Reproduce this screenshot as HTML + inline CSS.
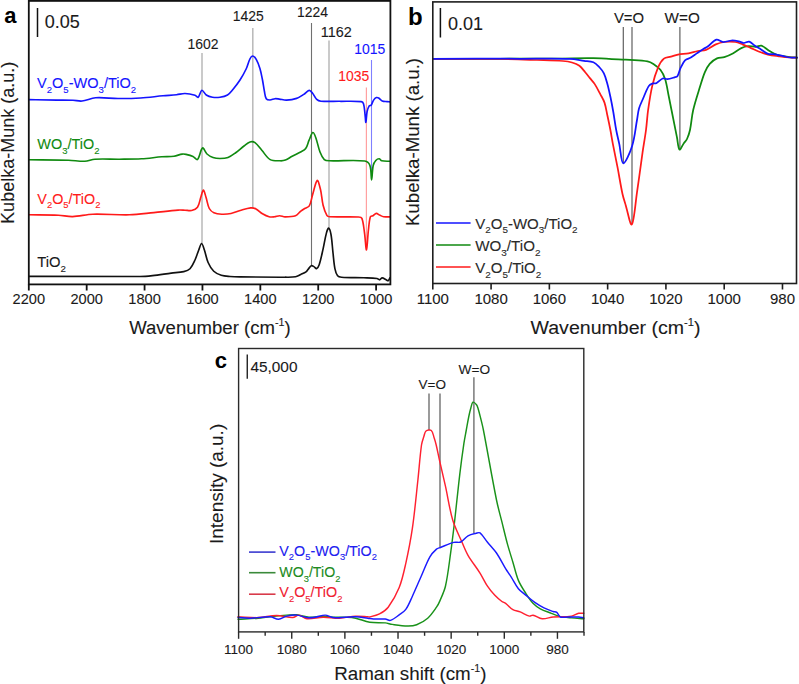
<!DOCTYPE html>
<html><head><meta charset="utf-8"><style>
html,body{margin:0;padding:0;background:#fff;width:799px;height:684px;overflow:hidden}
svg{display:block}
text{font-family:"Liberation Sans", sans-serif}
</style></head><body>
<svg width="799" height="684" viewBox="0 0 799 684">
<rect width="799" height="684" fill="#fff"/>
<line x1="202.0" y1="53" x2="202.0" y2="243" stroke="#b8b8b8" stroke-width="1.5"/>
<line x1="252.8" y1="28" x2="252.8" y2="208" stroke="#b8b8b8" stroke-width="1.5"/>
<line x1="311.5" y1="23" x2="311.5" y2="266" stroke="#707070" stroke-width="1.1"/>
<line x1="329.0" y1="40.6" x2="329.0" y2="229" stroke="#b8b8b8" stroke-width="1.5"/>
<line x1="366.4" y1="87.5" x2="366.4" y2="245" stroke="#ffa0a0" stroke-width="1.2"/>
<line x1="371.5" y1="60" x2="371.5" y2="176" stroke="#8080ff" stroke-width="1.1"/>
<path d="M28.80,276.30 C65.87,276.37 102.94,276.71 140.00,276.50 C144.18,276.48 148.35,276.05 152.50,275.60 C158.77,274.92 165.00,273.90 171.25,273.10 C175.41,272.57 179.71,272.54 183.75,271.60 C185.96,271.09 188.48,270.32 190.00,268.75 C192.23,266.45 193.58,263.03 195.00,260.00 C196.50,256.78 197.43,253.30 198.75,250.00 C199.63,247.80 200.66,243.50 201.60,243.50 C202.54,243.50 203.64,247.77 204.40,250.00 C205.80,254.10 206.37,258.56 208.10,262.50 C209.48,265.65 211.34,268.91 213.75,271.25 C215.72,273.16 218.59,274.39 221.25,275.25 C224.01,276.14 227.07,276.24 230.00,276.50 C233.32,276.79 236.66,276.86 240.00,276.90 C255.00,277.09 270.00,277.23 285.00,277.20 C288.50,277.19 292.10,277.38 295.50,276.80 C297.37,276.48 299.06,275.31 300.80,274.50 C302.56,273.68 304.48,273.03 306.00,271.90 C307.11,271.07 307.78,269.68 308.70,268.60 C309.54,267.61 310.28,266.09 311.30,265.70 C312.02,265.42 313.11,266.16 313.90,266.60 C314.84,267.13 315.78,268.86 316.50,268.60 C317.54,268.23 318.70,266.18 319.20,264.70 C320.90,259.62 321.90,254.19 323.10,248.90 C324.30,243.65 325.03,238.28 326.40,233.10 C326.86,231.35 327.92,227.89 328.60,228.10 C329.45,228.36 330.60,232.27 331.00,234.50 C332.07,240.54 332.30,246.77 333.00,252.90 C333.60,258.14 333.87,263.46 334.90,268.60 C335.40,271.10 336.17,273.94 337.60,275.80 C338.37,276.80 340.13,277.10 341.50,277.20 C348.87,277.76 356.37,277.53 363.80,277.80 C368.20,277.96 372.68,277.95 377.00,278.50 C377.95,278.62 378.79,279.91 379.60,279.80 C380.52,279.68 381.27,277.80 382.20,277.80 C383.47,277.80 384.86,279.15 386.20,279.80 C386.86,280.12 387.70,280.96 388.20,280.70 C388.97,280.29 389.40,278.77 390.00,277.80" fill="none" stroke="#111111" stroke-width="1.65" stroke-linejoin="round" stroke-linecap="round"/>
<path d="M28.80,214.80 C38.67,214.93 48.55,214.80 58.40,215.20 C63.15,215.40 67.87,216.74 72.60,216.60 C79.37,216.40 86.10,214.42 92.90,214.20 C105.04,213.82 117.25,215.12 129.40,214.80 C137.55,214.59 145.67,213.38 153.80,212.60 C161.90,211.82 169.99,210.72 178.10,210.10 C180.39,209.92 182.70,210.13 185.00,210.20 C187.20,210.27 189.54,210.99 191.60,210.50 C193.71,209.99 196.29,208.93 197.50,207.20 C199.36,204.53 199.67,200.59 200.80,197.30 C201.63,194.89 202.53,190.10 203.40,190.10 C204.27,190.10 205.22,194.87 206.00,197.30 C207.19,201.00 207.59,205.14 209.30,208.50 C210.22,210.31 212.07,211.96 213.90,212.80 C216.23,213.86 219.15,214.09 221.80,214.20 C224.85,214.32 228.01,214.10 231.00,213.50 C234.14,212.87 237.10,211.38 240.20,210.50 C243.67,209.51 247.19,208.26 250.70,207.90 C252.45,207.72 254.43,208.12 256.00,208.90 C258.37,210.08 260.19,212.41 262.50,213.80 C264.56,215.04 266.81,216.22 269.10,216.80 C270.78,217.22 272.65,216.98 274.40,216.80 C276.15,216.62 277.87,215.70 279.60,215.70 C281.40,215.70 283.18,216.80 285.00,216.80 C288.48,216.80 292.34,216.84 295.50,215.70 C297.60,214.94 298.96,212.54 300.80,211.10 C302.03,210.14 303.37,209.31 304.70,208.50 C306.20,207.58 308.48,207.33 309.30,205.90 C311.11,202.73 311.44,198.42 312.60,194.70 C314.08,189.95 315.60,181.56 317.20,180.50 C318.23,179.82 319.76,186.40 320.50,189.50 C321.73,194.64 321.83,200.07 323.10,205.20 C324.00,208.81 325.25,212.63 327.00,215.70 C327.45,216.50 328.73,216.76 329.70,216.80 C339.27,217.19 349.05,216.53 358.60,217.00 C359.78,217.06 361.51,217.36 361.90,218.40 C363.48,222.63 363.80,227.98 364.50,232.80 C365.33,238.48 365.90,250.30 366.50,249.90 C367.20,249.44 367.63,236.75 368.40,230.20 C368.93,225.72 369.13,220.80 370.40,216.80 C370.66,215.97 372.19,216.17 373.00,215.70 C374.16,215.03 375.16,213.50 376.30,213.40 C377.36,213.30 378.48,214.58 379.60,215.10 C380.91,215.71 382.20,216.57 383.60,216.80 C385.66,217.14 387.87,216.80 390.00,216.80" fill="none" stroke="#ff1a1a" stroke-width="1.65" stroke-linejoin="round" stroke-linecap="round"/>
<path d="M28.80,159.80 C42.07,159.93 55.34,159.87 68.60,160.20 C74.01,160.34 79.44,161.40 84.80,161.20 C88.20,161.07 91.49,159.40 94.90,159.20 C102.99,158.73 111.17,159.27 119.30,159.20 C126.73,159.14 134.18,159.22 141.60,158.80 C148.38,158.42 155.12,157.34 161.90,156.80 C165.92,156.48 170.02,156.73 174.00,156.20 C176.78,155.83 179.44,154.51 182.20,154.10 C183.44,153.91 184.77,154.13 186.00,154.40 C188.37,154.93 190.80,155.52 193.00,156.50 C194.63,157.22 196.55,160.35 197.50,159.50 C199.71,157.52 200.52,149.15 202.50,148.00 C203.69,147.31 205.18,152.36 207.00,154.00 C208.68,155.52 210.85,156.76 213.00,157.50 C215.19,158.26 217.66,158.50 220.00,158.50 C222.66,158.50 225.54,158.42 228.00,157.50 C230.88,156.42 233.45,154.33 236.00,152.50 C238.78,150.50 241.25,148.06 244.00,146.00 C245.92,144.56 247.84,142.65 250.00,142.00 C251.51,141.55 253.70,141.78 255.00,142.70 C257.63,144.55 259.53,147.77 261.80,150.30 C264.59,153.41 266.80,157.67 270.20,159.60 C272.96,161.17 276.94,160.69 280.30,160.80 C282.00,160.86 283.82,160.70 285.40,160.10 C287.79,159.20 289.91,157.52 292.20,156.30 C294.98,154.82 297.87,153.56 300.60,152.00 C302.37,150.99 304.56,150.19 305.70,148.60 C307.39,146.25 307.88,142.96 309.10,140.20 C310.24,137.63 311.49,133.09 312.80,132.60 C313.72,132.26 315.12,135.86 315.80,137.70 C317.52,142.33 318.21,147.40 320.00,152.00 C321.05,154.70 322.35,157.75 324.30,159.60 C325.45,160.69 327.59,160.74 329.30,160.80 C341.09,161.21 353.44,159.69 364.80,161.00 C366.98,161.25 369.18,163.49 369.90,165.50 C371.44,169.79 371.05,179.90 371.60,179.90 C372.15,179.90 372.19,170.16 373.20,165.50 C373.59,163.69 374.61,161.83 375.80,160.50 C376.61,159.60 378.13,158.75 379.20,158.80 C380.10,158.85 380.70,160.57 381.70,160.80 C384.30,161.40 387.23,161.13 390.00,161.30" fill="none" stroke="#108a10" stroke-width="1.65" stroke-linejoin="round" stroke-linecap="round"/>
<path d="M28.80,99.60 C38.20,99.77 47.60,99.95 57.00,100.10 C62.33,100.18 67.67,100.11 73.00,100.30 C76.01,100.41 79.04,101.33 82.00,101.00 C86.58,100.49 90.99,98.12 95.60,97.80 C102.99,97.29 110.53,98.47 118.00,98.50 C125.53,98.53 133.08,98.45 140.60,98.00 C148.08,97.55 155.53,96.48 163.00,95.80 C167.53,95.38 172.08,95.17 176.60,94.70 C179.41,94.41 182.21,93.42 185.00,93.50 C188.34,93.60 191.80,94.33 195.00,95.25 C196.16,95.58 197.37,97.78 198.10,97.25 C199.67,96.11 200.40,90.66 201.90,90.25 C203.11,89.91 204.51,93.85 206.25,95.00 C208.04,96.18 210.35,96.90 212.50,97.25 C214.93,97.65 217.55,97.62 220.00,97.25 C222.55,96.87 225.31,96.27 227.50,95.00 C229.48,93.85 230.99,91.81 232.50,90.00 C235.16,86.81 237.74,83.49 240.00,80.00 C242.33,76.41 244.43,72.62 246.25,68.75 C247.76,65.54 248.41,61.87 250.00,58.75 C250.58,57.62 251.83,55.90 252.75,56.00 C253.91,56.12 255.46,58.01 256.25,59.40 C257.88,62.26 259.03,65.55 260.00,68.75 C261.11,72.41 261.76,76.23 262.50,80.00 C263.23,83.73 263.65,87.52 264.40,91.25 C264.90,93.77 265.02,96.82 266.25,98.75 C266.88,99.74 268.74,100.01 270.00,100.00 C271.65,99.99 273.31,98.86 275.00,98.70 C276.41,98.56 277.87,98.93 279.30,99.10 C281.70,99.39 284.11,100.20 286.50,100.10 C289.87,99.96 293.40,99.45 296.60,98.40 C299.17,97.55 301.49,95.87 303.80,94.40 C305.69,93.20 307.42,90.69 309.20,90.40 C310.29,90.22 311.53,91.95 312.40,93.00 C314.03,94.95 314.91,97.70 316.70,99.40 C317.78,100.43 319.47,101.07 321.00,101.20 C327.14,101.71 333.47,101.24 339.70,101.30 C346.90,101.37 354.35,100.90 361.30,101.60 C362.28,101.70 363.21,102.77 363.50,103.70 C364.41,106.60 364.50,109.96 364.90,113.10 C365.30,116.19 365.56,122.62 365.90,122.40 C366.29,122.15 366.40,115.20 367.10,111.70 C367.50,109.70 368.20,107.53 369.20,105.90 C369.53,105.36 370.71,105.71 371.10,105.20 C372.18,103.77 372.54,101.63 373.60,100.10 C374.30,99.09 375.36,98.04 376.40,97.60 C377.02,97.34 377.97,97.64 378.60,98.00 C379.90,98.74 380.83,100.33 382.20,100.90 C383.70,101.53 385.53,101.39 387.20,101.60 C388.13,101.72 389.07,101.80 390.00,101.90" fill="none" stroke="#1414ff" stroke-width="1.65" stroke-linejoin="round" stroke-linecap="round"/>
<rect x="28.8" y="0.9" width="361.59999999999997" height="283.5" fill="none" stroke="#111111" stroke-width="1.8"/>
<line x1="28.8" y1="284.4" x2="28.8" y2="290.5" stroke="#111111" stroke-width="1.8"/>
<text x="28.8" y="304.4" font-size="14.6" fill="#1a1a1a" stroke="#1a1a1a" stroke-width="0.1" text-anchor="middle" font-weight="normal" >2200</text>
<line x1="86.684" y1="284.4" x2="86.684" y2="290.5" stroke="#111111" stroke-width="1.8"/>
<text x="86.684" y="304.4" font-size="14.6" fill="#1a1a1a" stroke="#1a1a1a" stroke-width="0.1" text-anchor="middle" font-weight="normal" >2000</text>
<line x1="144.568" y1="284.4" x2="144.568" y2="290.5" stroke="#111111" stroke-width="1.8"/>
<text x="144.568" y="304.4" font-size="14.6" fill="#1a1a1a" stroke="#1a1a1a" stroke-width="0.1" text-anchor="middle" font-weight="normal" >1800</text>
<line x1="202.45200000000003" y1="284.4" x2="202.45200000000003" y2="290.5" stroke="#111111" stroke-width="1.8"/>
<text x="202.45200000000003" y="304.4" font-size="14.6" fill="#1a1a1a" stroke="#1a1a1a" stroke-width="0.1" text-anchor="middle" font-weight="normal" >1600</text>
<line x1="260.336" y1="284.4" x2="260.336" y2="290.5" stroke="#111111" stroke-width="1.8"/>
<text x="260.336" y="304.4" font-size="14.6" fill="#1a1a1a" stroke="#1a1a1a" stroke-width="0.1" text-anchor="middle" font-weight="normal" >1400</text>
<line x1="318.22" y1="284.4" x2="318.22" y2="290.5" stroke="#111111" stroke-width="1.8"/>
<text x="318.22" y="304.4" font-size="14.6" fill="#1a1a1a" stroke="#1a1a1a" stroke-width="0.1" text-anchor="middle" font-weight="normal" >1200</text>
<line x1="376.10400000000004" y1="284.4" x2="376.10400000000004" y2="290.5" stroke="#111111" stroke-width="1.8"/>
<text x="376.10400000000004" y="304.4" font-size="14.6" fill="#1a1a1a" stroke="#1a1a1a" stroke-width="0.1" text-anchor="middle" font-weight="normal" >1000</text>
<text x="129.2" y="333.8" font-size="18" fill="#1a1a1a" stroke="#1a1a1a" stroke-width="0.1" text-anchor="start" font-weight="normal" textLength="161.5" lengthAdjust="spacingAndGlyphs">Wavenumber (cm<tspan font-size="10.4" dy="-8.0">-1</tspan><tspan dy="8.0">)</tspan></text>
<text x="0" y="0" font-size="18" fill="#1a1a1a" stroke="#1a1a1a" stroke-width="0.1" text-anchor="start" font-weight="normal" transform="translate(14,223.9) rotate(-90)" textLength="162.2" lengthAdjust="spacingAndGlyphs">Kubelka-Munk (a.u.)</text>
<text x="4.3" y="22.7" font-size="22.5" fill="#000" stroke="#000" stroke-width="0" text-anchor="start" font-weight="bold" textLength="12.2" lengthAdjust="spacingAndGlyphs">a</text>
<line x1="37.5" y1="8" x2="37.5" y2="37" stroke="#111111" stroke-width="1.5"/>
<text x="44.8" y="27.5" font-size="18" fill="#1a1a1a" stroke="#1a1a1a" stroke-width="0.1" text-anchor="start" font-weight="normal" >0.05</text>
<text x="202.9" y="48.9" font-size="14.6" fill="#1a1a1a" stroke="#1a1a1a" stroke-width="0.1" text-anchor="middle" font-weight="normal" textLength="31" lengthAdjust="spacingAndGlyphs">1602</text>
<text x="248.3" y="20.5" font-size="14.6" fill="#1a1a1a" stroke="#1a1a1a" stroke-width="0.1" text-anchor="middle" font-weight="normal" textLength="31" lengthAdjust="spacingAndGlyphs">1425</text>
<text x="312.6" y="16.65" font-size="14.6" fill="#1a1a1a" stroke="#1a1a1a" stroke-width="0.1" text-anchor="middle" font-weight="normal" textLength="31" lengthAdjust="spacingAndGlyphs">1224</text>
<text x="336.25" y="37.15" font-size="14.6" fill="#1a1a1a" stroke="#1a1a1a" stroke-width="0.1" text-anchor="middle" font-weight="normal" textLength="31" lengthAdjust="spacingAndGlyphs">1162</text>
<text x="369.75" y="53.9" font-size="14.6" fill="#1414ff" stroke="#1414ff" stroke-width="0.1" text-anchor="middle" font-weight="normal" textLength="31" lengthAdjust="spacingAndGlyphs">1015</text>
<text x="353.75" y="80.65" font-size="14.6" fill="#ff1a1a" stroke="#ff1a1a" stroke-width="0.1" text-anchor="middle" font-weight="normal" textLength="31" lengthAdjust="spacingAndGlyphs">1035</text>
<text x="37.0" y="87.9" font-size="14.8" fill="#1414ff" stroke="#1414ff" stroke-width="0.1" text-anchor="start"  textLength="99.2" lengthAdjust="spacingAndGlyphs"><tspan>V</tspan><tspan font-size="9.77" dy="4.88">2</tspan><tspan dy="-4.88">O</tspan><tspan font-size="9.77" dy="4.88">5</tspan><tspan dy="-4.88">-WO</tspan><tspan font-size="9.77" dy="4.88">3</tspan><tspan dy="-4.88">/TiO</tspan><tspan font-size="9.77" dy="4.88">2</tspan></text>
<text x="37.3" y="148.8" font-size="14.8" fill="#108a10" stroke="#108a10" stroke-width="0.1" text-anchor="start"  textLength="62.2" lengthAdjust="spacingAndGlyphs"><tspan>WO</tspan><tspan font-size="9.77" dy="4.88">3</tspan><tspan dy="-4.88">/TiO</tspan><tspan font-size="9.77" dy="4.88">2</tspan></text>
<text x="37.3" y="203.5" font-size="14.8" fill="#ff1a1a" stroke="#ff1a1a" stroke-width="0.1" text-anchor="start"  textLength="63.2" lengthAdjust="spacingAndGlyphs"><tspan>V</tspan><tspan font-size="9.77" dy="4.88">2</tspan><tspan dy="-4.88">O</tspan><tspan font-size="9.77" dy="4.88">5</tspan><tspan dy="-4.88">/TiO</tspan><tspan font-size="9.77" dy="4.88">2</tspan></text>
<text x="37.3" y="266.6" font-size="15" fill="#1a1a1a" stroke="#1a1a1a" stroke-width="0.1" text-anchor="start"  textLength="28.7" lengthAdjust="spacingAndGlyphs"><tspan>TiO</tspan><tspan font-size="9.90" dy="4.95">2</tspan></text>
<line x1="623.3" y1="27" x2="623.3" y2="163.6" stroke="#606060" stroke-width="1.2"/>
<line x1="632.0" y1="27" x2="632.0" y2="224" stroke="#606060" stroke-width="1.2"/>
<line x1="679.9" y1="27" x2="679.9" y2="149.6" stroke="#606060" stroke-width="1.2"/>
<path d="M432.80,58.75 C455.20,58.75 477.60,58.79 500.00,58.75 C520.00,58.71 540.00,58.62 560.00,58.50 C571.13,58.43 582.27,58.00 593.40,58.20 C603.14,58.37 612.87,59.17 622.60,59.60 C625.07,59.71 627.54,59.63 630.00,59.80 C635.84,60.20 641.79,60.30 647.50,61.30 C649.59,61.67 651.62,62.73 653.40,63.90 C655.92,65.56 658.58,67.43 660.40,69.80 C662.48,72.50 664.05,75.82 665.10,79.10 C666.79,84.38 667.47,90.03 668.60,95.50 C669.60,100.33 670.53,105.17 671.50,110.00 C673.33,119.17 675.14,128.34 677.00,137.50 C677.81,141.50 678.08,148.39 679.50,149.50 C680.41,150.22 682.47,145.14 684.00,143.00 C684.97,141.64 686.31,140.50 687.00,139.00 C688.31,136.16 689.34,133.08 690.00,130.00 C691.41,123.42 691.68,116.56 693.20,110.00 C695.08,101.93 697.75,94.03 700.20,86.10 C701.65,81.40 702.98,76.61 704.90,72.10 C706.15,69.17 707.63,66.15 709.70,63.80 C711.66,61.58 714.32,59.61 717.00,58.40 C719.18,57.41 721.96,57.92 724.30,57.20 C727.23,56.29 730.08,54.95 732.80,53.50 C735.75,51.92 738.29,49.50 741.30,48.10 C743.52,47.07 746.06,46.42 748.50,46.20 C750.90,45.99 753.39,46.91 755.80,46.80 C757.65,46.71 759.62,45.17 761.30,45.60 C763.68,46.21 765.75,48.50 768.00,49.90 C769.98,51.13 771.90,52.51 774.00,53.50 C775.93,54.41 778.01,55.11 780.10,55.60 C783.28,56.34 786.55,56.83 789.80,57.20 C792.18,57.47 794.60,57.40 797.00,57.50" fill="none" stroke="#108a10" stroke-width="1.75" stroke-linejoin="round" stroke-linecap="round"/>
<path d="M432.80,58.75 C455.20,58.83 477.60,58.73 500.00,59.00 C512.34,59.15 524.67,59.61 537.00,60.00 C545.67,60.28 554.36,60.38 563.00,61.00 C566.03,61.22 569.10,61.65 572.00,62.50 C574.57,63.25 577.27,64.23 579.40,65.80 C581.67,67.47 583.33,70.01 585.20,72.20 C586.83,74.11 588.33,76.14 589.90,78.10 C591.46,80.04 593.26,81.82 594.60,83.90 C596.76,87.25 598.53,90.87 600.40,94.40 C601.83,97.10 603.54,99.72 604.50,102.60 C605.88,106.75 606.47,111.19 607.40,115.50 C608.44,120.32 609.47,125.15 610.40,130.00 C611.30,134.69 612.00,139.41 612.90,144.10 C614.44,152.15 616.15,160.16 617.70,168.20 C619.35,176.79 620.65,185.46 622.50,194.00 C623.32,197.79 624.57,201.49 625.70,205.20 C627.67,211.65 630.36,226.15 631.80,224.50 C634.12,221.85 635.39,203.05 637.00,192.30 C638.99,178.95 640.67,165.56 642.60,152.20 C643.67,144.79 645.03,137.42 646.00,130.00 C646.87,123.35 647.16,116.63 648.10,110.00 C649.23,102.00 650.36,93.95 652.20,86.10 C653.69,79.75 655.56,73.36 658.10,67.40 C659.46,64.22 661.38,60.80 663.90,58.70 C665.65,57.24 668.57,57.38 670.90,56.70 C673.27,56.01 675.58,55.05 678.00,54.60 C681.45,53.95 685.04,54.03 688.50,53.40 C691.64,52.83 694.67,51.62 697.80,51.00 C700.53,50.46 703.53,50.84 706.10,49.90 C709.53,48.64 712.41,45.87 715.80,44.40 C718.48,43.24 721.41,42.36 724.30,42.00 C727.87,41.56 731.64,41.53 735.20,42.00 C737.71,42.33 740.11,43.48 742.50,44.40 C745.38,45.51 748.17,46.87 751.00,48.10 C754.23,49.50 757.42,51.03 760.70,52.30 C763.09,53.23 765.51,54.15 768.00,54.70 C771.57,55.49 775.26,55.83 778.90,56.30 C782.52,56.77 786.16,57.26 789.80,57.50 C792.19,57.66 794.60,57.50 797.00,57.50" fill="none" stroke="#ff1a1a" stroke-width="1.75" stroke-linejoin="round" stroke-linecap="round"/>
<path d="M432.80,58.75 C461.87,58.75 490.93,58.74 520.00,58.75 C536.67,58.76 553.37,58.27 570.00,58.80 C574.70,58.95 579.34,60.10 584.00,60.80 C587.14,61.27 590.56,61.14 593.40,62.30 C595.63,63.21 597.50,65.21 599.20,67.00 C601.00,68.91 602.76,71.05 603.90,73.40 C605.49,76.68 606.41,80.35 607.40,83.90 C608.58,88.15 609.49,92.48 610.40,96.80 C611.46,101.85 612.41,106.92 613.30,112.00 C614.35,117.99 615.08,124.03 616.20,130.00 C617.08,134.73 618.30,139.39 619.30,144.10 C620.67,150.53 621.16,163.13 623.30,163.40 C625.46,163.67 630.23,151.94 632.20,145.70 C634.80,137.47 635.43,128.57 637.00,120.00 C637.70,116.17 637.95,112.22 639.00,108.50 C639.92,105.22 641.54,102.14 642.90,99.00 C644.77,94.67 646.32,90.04 648.70,86.10 C649.42,84.90 650.91,84.09 652.20,83.60 C653.44,83.13 655.10,83.78 656.30,83.20 C658.60,82.08 660.38,79.36 662.70,78.50 C664.08,77.99 665.85,79.25 667.40,79.10 C669.75,78.88 672.10,78.07 674.40,77.40 C675.43,77.10 676.84,77.03 677.40,76.20 C678.81,74.10 679.13,71.04 680.30,68.60 C681.66,65.77 682.92,62.59 685.00,60.40 C686.42,58.89 688.95,58.61 690.80,57.50 C692.85,56.27 694.72,54.75 696.70,53.40 C699.02,51.82 701.32,50.18 703.70,48.70 C704.85,47.98 706.20,47.59 707.30,46.80 C710.43,44.55 713.14,40.59 716.40,39.60 C718.40,38.99 720.81,41.86 723.10,42.00 C725.88,42.16 728.76,40.61 731.60,40.50 C733.99,40.41 736.44,40.91 738.80,41.40 C740.48,41.75 742.05,42.95 743.70,43.00 C745.51,43.05 747.53,41.30 749.20,41.70 C751.17,42.17 752.75,44.38 754.60,45.60 C756.58,46.91 758.68,48.05 760.70,49.30 C763.15,50.81 765.39,52.96 768.00,53.90 C769.82,54.56 772.03,53.83 774.00,54.10 C776.86,54.49 779.67,55.29 782.50,55.90 C784.94,56.42 787.34,57.23 789.80,57.50 C792.17,57.76 794.60,57.50 797.00,57.50" fill="none" stroke="#1414ff" stroke-width="1.75" stroke-linejoin="round" stroke-linecap="round"/>
<rect x="432.8" y="1.9" width="363.7" height="281.6" fill="none" stroke="#1e1e1e" stroke-width="1.6"/>
<line x1="432.8" y1="283.5" x2="432.8" y2="289.5" stroke="#1e1e1e" stroke-width="1.6"/>
<text x="432.8" y="304.4" font-size="15" fill="#1a1a1a" stroke="#1a1a1a" stroke-width="0.1" text-anchor="middle" font-weight="normal" >1100</text>
<line x1="491.08000000000004" y1="283.5" x2="491.08000000000004" y2="289.5" stroke="#1e1e1e" stroke-width="1.6"/>
<text x="491.08000000000004" y="304.4" font-size="15" fill="#1a1a1a" stroke="#1a1a1a" stroke-width="0.1" text-anchor="middle" font-weight="normal" >1080</text>
<line x1="549.36" y1="283.5" x2="549.36" y2="289.5" stroke="#1e1e1e" stroke-width="1.6"/>
<text x="549.36" y="304.4" font-size="15" fill="#1a1a1a" stroke="#1a1a1a" stroke-width="0.1" text-anchor="middle" font-weight="normal" >1060</text>
<line x1="607.64" y1="283.5" x2="607.64" y2="289.5" stroke="#1e1e1e" stroke-width="1.6"/>
<text x="607.64" y="304.4" font-size="15" fill="#1a1a1a" stroke="#1a1a1a" stroke-width="0.1" text-anchor="middle" font-weight="normal" >1040</text>
<line x1="665.9200000000001" y1="283.5" x2="665.9200000000001" y2="289.5" stroke="#1e1e1e" stroke-width="1.6"/>
<text x="665.9200000000001" y="304.4" font-size="15" fill="#1a1a1a" stroke="#1a1a1a" stroke-width="0.1" text-anchor="middle" font-weight="normal" >1020</text>
<line x1="724.2" y1="283.5" x2="724.2" y2="289.5" stroke="#1e1e1e" stroke-width="1.6"/>
<text x="724.2" y="304.4" font-size="15" fill="#1a1a1a" stroke="#1a1a1a" stroke-width="0.1" text-anchor="middle" font-weight="normal" >1000</text>
<line x1="782.48" y1="283.5" x2="782.48" y2="289.5" stroke="#1e1e1e" stroke-width="1.6"/>
<text x="782.48" y="304.4" font-size="15" fill="#1a1a1a" stroke="#1a1a1a" stroke-width="0.1" text-anchor="middle" font-weight="normal" >980</text>
<text x="530.5" y="334" font-size="18.3" fill="#1a1a1a" stroke="#1a1a1a" stroke-width="0.1" text-anchor="start" font-weight="normal" textLength="170" lengthAdjust="spacingAndGlyphs">Wavenumber (cm<tspan font-size="10.4" dy="-8.0">-1</tspan><tspan dy="8.0">)</tspan></text>
<text x="0" y="0" font-size="18" fill="#1a1a1a" stroke="#1a1a1a" stroke-width="0.1" text-anchor="start" font-weight="normal" transform="translate(419,226.1) rotate(-90)" textLength="168.2" lengthAdjust="spacingAndGlyphs">Kubelka-Munk (a.u.)</text>
<text x="408" y="25" font-size="24" fill="#000" stroke="#000" stroke-width="0" text-anchor="start" font-weight="bold" >b</text>
<line x1="440.4" y1="8" x2="440.4" y2="37.5" stroke="#111111" stroke-width="1.5"/>
<text x="448" y="30" font-size="18" fill="#1a1a1a" stroke="#1a1a1a" stroke-width="0.1" text-anchor="start" font-weight="normal" >0.01</text>
<text x="629" y="23.3" font-size="14" fill="#1a1a1a" stroke="#1a1a1a" stroke-width="0.1" text-anchor="middle" font-weight="normal" textLength="30.2" lengthAdjust="spacingAndGlyphs">V=O</text>
<text x="682.2" y="23.3" font-size="14.2" fill="#1a1a1a" stroke="#1a1a1a" stroke-width="0.1" text-anchor="middle" font-weight="normal" textLength="35.2" lengthAdjust="spacingAndGlyphs">W=O</text>
<line x1="436" y1="223" x2="470.6" y2="223" stroke="#1414ff" stroke-width="1.5"/>
<line x1="436" y1="245" x2="470.6" y2="245" stroke="#108a10" stroke-width="1.5"/>
<line x1="436" y1="267" x2="470.6" y2="267" stroke="#ff1a1a" stroke-width="1.5"/>
<text x="475.2" y="228.6" font-size="14.8" fill="#2a2a2a" stroke="#2a2a2a" stroke-width="0.1" text-anchor="start"  textLength="102.4" lengthAdjust="spacingAndGlyphs"><tspan>V</tspan><tspan font-size="9.77" dy="4.88">2</tspan><tspan dy="-4.88">O</tspan><tspan font-size="9.77" dy="4.88">5</tspan><tspan dy="-4.88">-WO</tspan><tspan font-size="9.77" dy="4.88">3</tspan><tspan dy="-4.88">/TiO</tspan><tspan font-size="9.77" dy="4.88">2</tspan></text>
<text x="475.2" y="250.7" font-size="14.8" fill="#2a2a2a" stroke="#2a2a2a" stroke-width="0.1" text-anchor="start"  textLength="65.3" lengthAdjust="spacingAndGlyphs"><tspan>WO</tspan><tspan font-size="9.77" dy="4.88">3</tspan><tspan dy="-4.88">/TiO</tspan><tspan font-size="9.77" dy="4.88">2</tspan></text>
<text x="475.2" y="272.7" font-size="14.8" fill="#2a2a2a" stroke="#2a2a2a" stroke-width="0.1" text-anchor="start"  textLength="66.1" lengthAdjust="spacingAndGlyphs"><tspan>V</tspan><tspan font-size="9.77" dy="4.88">2</tspan><tspan dy="-4.88">O</tspan><tspan font-size="9.77" dy="4.88">5</tspan><tspan dy="-4.88">/TiO</tspan><tspan font-size="9.77" dy="4.88">2</tspan></text>
<line x1="429" y1="393.5" x2="429" y2="430" stroke="#707070" stroke-width="1.4"/>
<line x1="440" y1="393.5" x2="440" y2="547" stroke="#707070" stroke-width="1.4"/>
<line x1="473.9" y1="377.3" x2="473.9" y2="533" stroke="#707070" stroke-width="1.4"/>
<path d="M238.00,619.20 C244.76,618.86 251.54,618.74 258.28,618.18 C263.71,617.73 269.09,616.74 274.51,616.16 C278.56,615.73 282.62,615.40 286.68,615.14 C290.05,614.93 293.47,614.44 296.82,614.74 C300.91,615.11 304.90,616.95 308.99,617.17 C313.69,617.42 318.46,616.16 323.19,616.16 C326.57,616.16 329.94,617.03 333.33,617.17 C338.05,617.37 342.81,616.96 347.53,617.17 C350.25,617.29 353.00,617.58 355.65,618.18 C360.42,619.26 364.99,621.43 369.80,622.20 C374.87,623.01 380.17,622.40 385.30,622.90 C387.67,623.13 389.94,624.07 392.30,624.40 C397.37,625.11 402.51,625.94 407.60,626.00 C410.64,626.04 413.90,625.79 416.70,624.70 C420.60,623.19 424.56,620.97 427.70,618.20 C431.16,615.14 433.82,611.03 436.50,607.20 C437.92,605.17 439.03,602.89 440.00,600.60 C442.03,595.82 444.37,591.05 445.50,586.00 C447.90,575.25 449.06,564.16 450.60,553.20 C452.13,542.32 453.43,531.41 454.70,520.50 C456.50,505.04 457.96,489.55 459.80,474.10 C461.02,463.85 462.39,453.61 463.90,443.40 C464.56,438.91 465.49,434.46 466.30,430.00 C467.12,425.50 467.87,420.98 468.80,416.50 C469.41,413.58 470.08,410.66 470.90,407.80 C471.45,405.90 471.83,402.79 472.90,402.20 C473.69,401.76 475.60,403.62 476.50,404.70 C477.30,405.66 477.62,407.06 478.00,408.30 C478.98,411.49 479.79,414.75 480.60,418.00 C481.59,421.99 482.62,425.97 483.40,430.00 C487.92,453.30 491.82,476.74 496.50,500.00 C497.98,507.37 500.09,514.60 501.90,521.90 C503.72,529.24 505.41,536.61 507.40,543.90 C509.08,550.04 511.06,556.10 512.90,562.20 C514.73,568.27 516.00,574.58 518.40,580.40 C520.26,584.91 523.06,589.06 525.70,593.20 C527.93,596.70 530.19,600.30 533.00,603.30 C535.06,605.50 537.65,607.35 540.30,608.80 C543.75,610.68 547.62,611.83 551.30,613.30 C553.72,614.27 556.07,615.52 558.60,616.10 C562.77,617.06 567.12,617.44 571.40,617.90 C575.52,618.34 579.67,618.50 583.80,618.80" fill="none" stroke="#1a921a" stroke-width="1.45" stroke-linejoin="round" stroke-linecap="round"/>
<path d="M238.00,616.76 C244.76,617.03 251.54,617.79 258.28,617.58 C264.38,617.39 270.46,615.55 276.54,615.55 C281.95,615.55 287.46,617.68 292.77,617.58 C294.90,617.54 296.84,614.97 298.85,615.14 C301.58,615.37 304.10,618.55 306.97,618.79 C312.22,619.23 317.78,617.27 323.19,617.17 C328.59,617.07 334.03,618.35 339.42,618.18 C344.85,618.01 350.23,616.43 355.65,616.16 C359.69,615.96 363.77,616.51 367.82,616.76 C368.38,616.79 368.96,617.14 369.50,617.00 C372.85,616.15 376.44,615.40 379.50,613.80 C382.68,612.13 386.06,610.06 388.20,607.20 C392.63,601.29 396.42,594.43 399.20,587.50 C402.29,579.80 403.98,571.46 405.80,563.30 C408.38,551.69 410.69,539.97 412.40,528.20 C414.72,512.21 416.14,496.07 417.90,480.00 C419.18,468.34 419.89,456.59 421.50,445.00 C421.93,441.92 423.05,438.96 424.00,436.00 C424.55,434.29 424.78,431.92 426.00,431.00 C427.21,430.09 430.21,429.57 431.30,430.50 C432.94,431.90 433.34,435.46 434.20,438.00 C434.98,440.30 435.64,442.64 436.20,445.00 C437.37,449.91 438.29,454.88 439.40,459.80 C441.39,468.68 443.54,477.52 445.50,486.40 C447.97,497.58 449.47,509.06 452.70,520.00 C454.94,527.59 458.74,534.71 461.90,542.00 C463.84,546.47 465.55,551.10 468.00,555.30 C471.59,561.46 476.19,567.05 480.00,573.10 C482.62,577.25 484.59,581.82 487.30,585.90 C489.46,589.15 491.94,592.25 494.60,595.10 C496.80,597.45 499.32,599.58 501.90,601.50 C502.99,602.31 504.51,602.49 505.60,603.30 C508.18,605.22 510.17,608.09 512.90,609.70 C515.04,610.96 517.84,610.98 520.20,611.90 C523.34,613.12 526.28,615.30 529.40,616.10 C530.55,616.40 531.83,614.95 533.00,615.20 C536.10,615.85 539.04,618.52 542.20,618.80 C545.74,619.12 549.44,617.34 553.10,617.00 C559.17,616.44 565.42,616.96 571.40,616.10 C573.95,615.73 576.20,613.86 578.70,613.30 C580.33,612.93 582.10,613.30 583.80,613.30" fill="none" stroke="#ff2030" stroke-width="1.45" stroke-linejoin="round" stroke-linecap="round"/>
<path d="M238.00,617.58 C242.06,617.78 246.12,618.25 250.17,618.18 C254.23,618.11 258.28,617.45 262.34,617.17 C265.04,616.98 267.80,616.43 270.45,616.76 C273.21,617.11 275.89,619.30 278.57,619.20 C281.30,619.10 283.89,616.78 286.68,616.16 C289.97,615.43 293.48,614.91 296.82,615.14 C300.24,615.38 303.55,617.20 306.97,617.58 C309.63,617.88 312.40,617.53 315.08,617.17 C318.49,616.71 321.88,615.06 325.22,615.14 C327.96,615.20 330.56,617.30 333.33,617.58 C337.32,617.98 341.45,617.32 345.51,617.17 C348.89,617.05 352.28,616.61 355.65,616.76 C359.72,616.94 363.77,617.67 367.82,618.18 C369.69,618.42 371.53,618.91 373.40,619.00 C377.35,619.19 381.38,618.68 385.30,619.00 C387.04,619.14 388.84,620.86 390.40,620.40 C393.47,619.49 396.39,616.91 399.20,614.90 C401.52,613.24 404.18,611.69 405.80,609.40 C408.58,605.46 410.33,600.66 412.40,596.20 C415.43,589.69 418.19,583.06 421.10,576.50 C424.02,569.93 426.41,563.01 429.90,556.80 C431.54,553.88 434.03,551.29 436.50,549.10 C437.53,548.19 439.09,548.01 440.40,547.50 C444.82,545.78 449.16,543.62 453.70,542.40 C455.96,541.79 458.76,542.94 460.80,542.00 C463.53,540.74 465.31,537.34 468.00,535.80 C470.44,534.41 473.43,533.87 476.20,533.20 C477.43,532.90 479.09,532.18 480.00,532.90 C482.79,535.11 484.83,538.99 487.30,542.00 C490.33,545.69 493.80,549.08 496.50,553.00 C499.90,557.94 502.45,563.47 505.60,568.60 C507.32,571.40 509.33,574.02 511.10,576.80 C513.60,580.72 515.53,585.10 518.40,588.70 C520.40,591.20 523.22,593.03 525.70,595.10 C528.68,597.59 531.62,600.18 534.80,602.40 C537.72,604.44 540.81,606.31 544.00,607.90 C546.91,609.35 550.03,610.42 553.10,611.50 C554.30,611.92 555.84,611.68 556.80,612.40 C558.27,613.51 558.78,616.32 560.40,617.00 C562.45,617.86 565.33,617.00 567.80,617.00 C571.43,617.00 575.08,616.80 578.70,617.00 C580.42,617.10 582.10,617.60 583.80,617.90" fill="none" stroke="#1a1aff" stroke-width="1.45" stroke-linejoin="round" stroke-linecap="round"/>
<rect x="238.6" y="348.5" width="345.19999999999993" height="283.4" fill="none" stroke="#2a2a2a" stroke-width="1.4"/>
<line x1="238.6" y1="631.9" x2="238.6" y2="638.8" stroke="#2a2a2a" stroke-width="1.4"/>
<text x="238.6" y="654" font-size="13.5" fill="#1a1a1a" stroke="#1a1a1a" stroke-width="0.1" text-anchor="middle" font-weight="normal" >1100</text>
<line x1="265.17" y1="631.9" x2="265.17" y2="635.8" stroke="#2a2a2a" stroke-width="1.4"/>
<line x1="291.74" y1="631.9" x2="291.74" y2="638.8" stroke="#2a2a2a" stroke-width="1.4"/>
<text x="291.74" y="654" font-size="13.5" fill="#1a1a1a" stroke="#1a1a1a" stroke-width="0.1" text-anchor="middle" font-weight="normal" >1080</text>
<line x1="318.31" y1="631.9" x2="318.31" y2="635.8" stroke="#2a2a2a" stroke-width="1.4"/>
<line x1="344.88" y1="631.9" x2="344.88" y2="638.8" stroke="#2a2a2a" stroke-width="1.4"/>
<text x="344.88" y="654" font-size="13.5" fill="#1a1a1a" stroke="#1a1a1a" stroke-width="0.1" text-anchor="middle" font-weight="normal" >1060</text>
<line x1="371.45" y1="631.9" x2="371.45" y2="635.8" stroke="#2a2a2a" stroke-width="1.4"/>
<line x1="398.02" y1="631.9" x2="398.02" y2="638.8" stroke="#2a2a2a" stroke-width="1.4"/>
<text x="398.02" y="654" font-size="13.5" fill="#1a1a1a" stroke="#1a1a1a" stroke-width="0.1" text-anchor="middle" font-weight="normal" >1040</text>
<line x1="424.59000000000003" y1="631.9" x2="424.59000000000003" y2="635.8" stroke="#2a2a2a" stroke-width="1.4"/>
<line x1="451.15999999999997" y1="631.9" x2="451.15999999999997" y2="638.8" stroke="#2a2a2a" stroke-width="1.4"/>
<text x="451.15999999999997" y="654" font-size="13.5" fill="#1a1a1a" stroke="#1a1a1a" stroke-width="0.1" text-anchor="middle" font-weight="normal" >1020</text>
<line x1="477.73" y1="631.9" x2="477.73" y2="635.8" stroke="#2a2a2a" stroke-width="1.4"/>
<line x1="504.29999999999995" y1="631.9" x2="504.29999999999995" y2="638.8" stroke="#2a2a2a" stroke-width="1.4"/>
<text x="504.29999999999995" y="654" font-size="13.5" fill="#1a1a1a" stroke="#1a1a1a" stroke-width="0.1" text-anchor="middle" font-weight="normal" >1000</text>
<line x1="530.87" y1="631.9" x2="530.87" y2="635.8" stroke="#2a2a2a" stroke-width="1.4"/>
<line x1="557.44" y1="631.9" x2="557.44" y2="638.8" stroke="#2a2a2a" stroke-width="1.4"/>
<text x="557.44" y="654" font-size="13.5" fill="#1a1a1a" stroke="#1a1a1a" stroke-width="0.1" text-anchor="middle" font-weight="normal" >980</text>
<line x1="584.01" y1="631.9" x2="584.01" y2="635.8" stroke="#2a2a2a" stroke-width="1.4"/>
<text x="334.2" y="679.5" font-size="18.3" fill="#1a1a1a" stroke="#1a1a1a" stroke-width="0.1" text-anchor="start" font-weight="normal" textLength="152.3" lengthAdjust="spacingAndGlyphs">Raman shift (cm<tspan font-size="10.4" dy="-8.0">-1</tspan><tspan dy="8.0">)</tspan></text>
<text x="0" y="0" font-size="18.5" fill="#1a1a1a" stroke="#1a1a1a" stroke-width="0.1" text-anchor="start" font-weight="normal" transform="translate(222.5,544) rotate(-90)" textLength="120.2" lengthAdjust="spacingAndGlyphs">Intensity (a.u.)</text>
<text x="214.75" y="367.75" font-size="22" fill="#000" stroke="#000" stroke-width="0" text-anchor="start" font-weight="bold" >c</text>
<line x1="247.25" y1="354.4" x2="247.25" y2="378.75" stroke="#111111" stroke-width="1.3"/>
<text x="250.4" y="371.9" font-size="15.4" fill="#1a1a1a" stroke="#1a1a1a" stroke-width="0.1" text-anchor="start" font-weight="normal" >45,000</text>
<text x="432.3" y="389.3" font-size="13.5" fill="#1a1a1a" stroke="#1a1a1a" stroke-width="0.1" text-anchor="middle" font-weight="normal" >V=O</text>
<text x="474.35" y="374.3" font-size="13.7" fill="#1a1a1a" stroke="#1a1a1a" stroke-width="0.1" text-anchor="middle" font-weight="normal" >W=O</text>
<line x1="249" y1="552.1" x2="275.5" y2="552.1" stroke="#3a3ad0" stroke-width="1.6"/>
<line x1="249" y1="572.7" x2="275.5" y2="572.7" stroke="#3a8a3a" stroke-width="1.6"/>
<line x1="249" y1="594.2" x2="275.5" y2="594.2" stroke="#d83a4a" stroke-width="1.6"/>
<text x="279.3" y="555.7" font-size="14.5" fill="#2020f0" stroke="#2020f0" stroke-width="0.1" text-anchor="start"  textLength="97.6" lengthAdjust="spacingAndGlyphs"><tspan>V</tspan><tspan font-size="9.57" dy="4.79">2</tspan><tspan dy="-4.79">O</tspan><tspan font-size="9.57" dy="4.79">5</tspan><tspan dy="-4.79">-WO</tspan><tspan font-size="9.57" dy="4.79">3</tspan><tspan dy="-4.79">/TiO</tspan><tspan font-size="9.57" dy="4.79">2</tspan></text>
<text x="279.3" y="577.0" font-size="14.5" fill="#208a20" stroke="#208a20" stroke-width="0.1" text-anchor="start"  textLength="61.1" lengthAdjust="spacingAndGlyphs"><tspan>WO</tspan><tspan font-size="9.57" dy="4.79">3</tspan><tspan dy="-4.79">/TiO</tspan><tspan font-size="9.57" dy="4.79">2</tspan></text>
<text x="279.3" y="597.3" font-size="14.5" fill="#f02030" stroke="#f02030" stroke-width="0.1" text-anchor="start"  textLength="63.2" lengthAdjust="spacingAndGlyphs"><tspan>V</tspan><tspan font-size="9.57" dy="4.79">2</tspan><tspan dy="-4.79">O</tspan><tspan font-size="9.57" dy="4.79">5</tspan><tspan dy="-4.79">/TiO</tspan><tspan font-size="9.57" dy="4.79">2</tspan></text>
</svg>
</body></html>
